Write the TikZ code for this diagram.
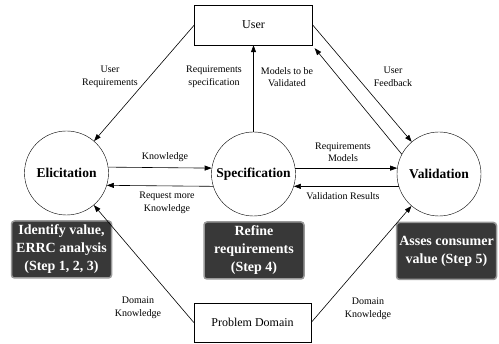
\documentclass[tikz,border=0pt]{standalone}
\usepackage{fontspec}
\setmainfont{Liberation Serif}
\usetikzlibrary{arrows.meta,positioning}

\tikzset{
  proc/.style={draw,circle,minimum size=84pt,inner sep=0pt,
    font=\fontsize{13.5}{16}\selectfont\bfseries},
  ext/.style={draw,rectangle,minimum width=118pt,minimum height=40pt,
    inner sep=0pt,font=\fontsize{12}{14}\selectfont},
  stepbox/.style={fill=black!78,draw=black!40,line width=1.5pt,
    rounded corners=3pt,text=white,align=center,minimum width=100pt,
    minimum height=57pt,inner sep=1pt,font=\fontsize{14}{18}\selectfont\bfseries},
  lbl/.style={align=center,inner sep=0pt,font=\fontsize{10}{12.5}\selectfont},
  flow/.style={-{Triangle[length=7pt,width=5pt]},semithick}
}

\begin{document}
\begin{tikzpicture}[x=1pt,y=-1pt]
    \useasboundingbox (0,0) rectangle (499,344);

    % outside
    \node[ext] (user) at (253.5,25) {User};
    \node[ext,minimum width=117pt,minimum height=39pt] (dom) at (252.5,322.5) {Problem Domain};

    % processes
    \node[proc] (elic) at (66.5,173) {Elicitation};
    \node[proc] (spec) at (253.5,174) {Specification};
    \node[proc] (valid) at (439,174) {Validation};

    % steps
    \node[stepbox] (s1) at (61.5,249.5) {Identify value,\\ERRC analysis\\(Step 1, 2, 3)};
    \node[stepbox] (s2) at (254,250.5) {Refine\\requirements\\(Step 4)};
    \node[stepbox] (s3) at (446.5,251) {Asses consumer\\value (Step 5)};

    % flows
    \draw[flow] (user.west) to (elic);
    \draw[flow] (spec) to (user);
    \draw[flow] (user.east) to (valid);
    \draw[flow] (valid.152) to ([shift={(2,3)}]user.south east);
    \draw[flow] (elic.8) to (spec.172);
    \draw[flow] (spec.-163) to (elic.-17);
    \draw[flow] (spec.8) to (valid.172);
    \draw[flow] (valid.-163) to (spec.-17);
    \draw[flow] (dom.west) to (elic);
    \draw[flow] (dom.east) to (valid);

    % labels
    \node[lbl] (l1) at (110,77) {User\\Requirements};
    \node[lbl] (l2) at (214,77) {Requirements\\specification};
    \node[lbl] (l3) at (287,77) {Models to be\\Validated};
    \node[lbl] (l4) at (393,77) {User\\Feedback};
    \node[lbl] (l5) at (165,157) {Knowledge};
    \node[lbl] (l6) at (167,203) {Request more\\Knowledge};
    \node[lbl] (l7) at (343,152) {Requirements\\Models};
    \node[lbl] (l8) at (343,196) {Validation Results};
    \node[lbl] (l9) at (138,308) {Domain\\Knowledge};
    \node[lbl] (l10) at (368,309) {Domain\\Knowledge};
  \end{tikzpicture}
\end{document}
